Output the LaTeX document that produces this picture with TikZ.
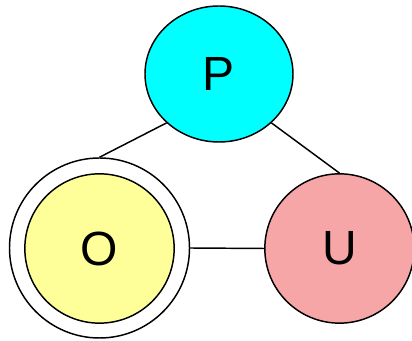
\documentclass[tikz,border=0pt]{standalone}
\usepackage{fontspec}
\setmainfont{Liberation Sans}
\usepackage{tikz}
\usetikzlibrary{shapes.geometric}

\definecolor{pcyan}{HTML}{00FFFF}
\definecolor{oyellow}{HTML}{FFFF99}
\definecolor{upink}{HTML}{F7A6A8}

\begin{document}
\begin{tikzpicture}[x=0.75pt,y=-0.75pt,line width=1.1pt,
	state/.style={draw=black,inner sep=0pt,font=\fontsize{36}{40}\selectfont},
	ring/.style={circle,draw=black,inner sep=0pt,minimum size=135pt},
	edge/.style={draw=black}]
	\useasboundingbox (0,0) rectangle (412,341);
	\node[state,ellipse,fill=pcyan,minimum width=111pt,minimum height=102pt] (P) at (219,74) {P};
	\node[ring] (Oring) at (99.5,248) {};
	\node[state,circle,fill=oyellow,minimum size=112pt] (O) at (99.5,248.5) {O};
	\node[state,circle,fill=upink,minimum size=112pt] (U) at (339.5,248.5) {U};
	\draw[edge] (P.223) -- (Oring.north);
	\draw[edge] (P.317) -- (U.north);
	\draw[edge] (Oring.east) -- (U.west);
\end{tikzpicture}
\end{document}
